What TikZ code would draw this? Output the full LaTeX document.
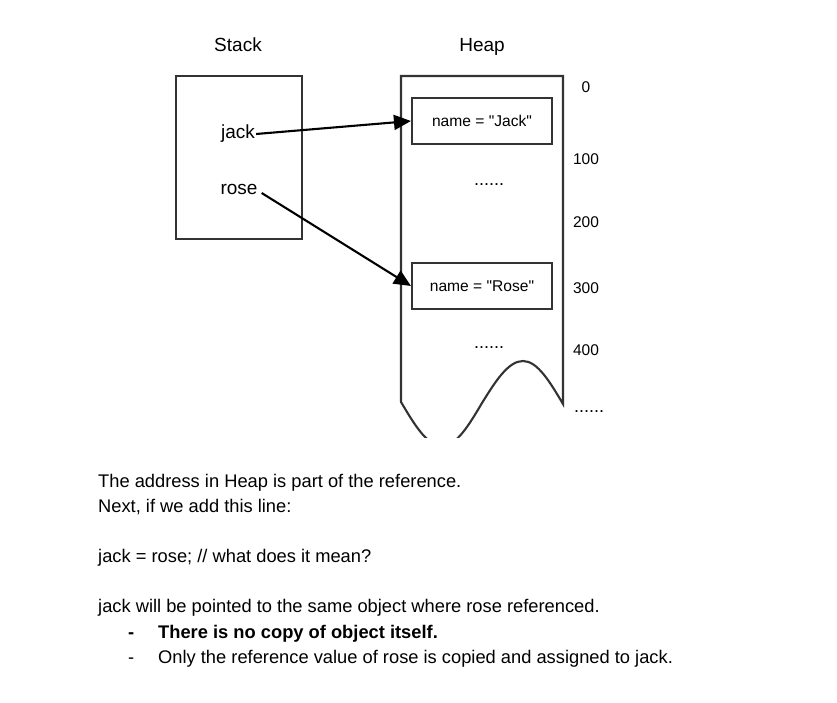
\documentclass[tikz,border=0pt]{standalone}
\usepackage{fontspec}
\setmainfont{Liberation Sans}
\newfontfamily\plainsans{Liberation Sans}
\usetikzlibrary{arrows.meta}
\definecolor{boxgray}{HTML}{333333}
\begin{document}
\begin{tikzpicture}[x=1pt,y=-1pt,
  outline/.style={draw=boxgray, line width=2.1pt, inner sep=0pt},
  objbox/.style={outline, minimum width=140pt, minimum height=46pt, font=\plainsans\fontsize{15.6}{18}\selectfont},
  title/.style={font=\fontsize{19}{22}\selectfont, inner sep=0pt, anchor=base},
  varlbl/.style={font=\fontsize{19}{22}\selectfont, inner sep=1pt},
  addr/.style={font=\fontsize{15.5}{18}\selectfont, inner sep=0pt},
  dots/.style={font=\fontsize{18}{20}\selectfont, inner sep=0pt, anchor=base},
  body/.style={font=\fontsize{18.3}{22}\selectfont, inner sep=0pt, anchor=base west},
  ptr/.style={line width=2.1pt, -{Triangle[length=17pt,width=15pt]}}
]
\useasboundingbox (0,0) rectangle (837,703);
\fill[white] (0,0) rectangle (837,703);

% titles
\node[title] (stacktitle) at (238,52) {Stack};
\node[title] (heaptitle) at (482,52) {Heap};

% stack box
\node[outline, minimum width=126pt, minimum height=163pt] (stack) at (239,157.5) {};
\node[varlbl] (jack) at (238,134) {jack};
\node[varlbl] (rose) at (239,189) {rose};

% heap outline with wavy bottom
\begin{scope}
\clip (380,60) rectangle (600,437.5);
\draw[boxgray, line width=2.1pt, line join=miter]
  (401,402) -- (401,76) -- (563,76) -- (563,404)
  sin (523,361) cos (482,403) sin (442,446) cos (401,402);
\end{scope}

% heap objects
\node[objbox] (jackobj) at (482,121) {name = "Jack"};
\node[objbox] (roseobj) at (482,286) {name = "Rose"};
\node[dots] (dots1) at (489,186) {......};
\node[dots] (dots2) at (489,348) {......};

% addresses
\node[addr] (a0) at (586,87) {0};
\node[addr] (a100) at (586,159) {100};
\node[addr] (a200) at (586,222) {200};
\node[addr] (a300) at (586,288) {300};
\node[addr] (a400) at (586,350) {400};
\node[dots] (adots) at (589,412) {......};

% pointers
\draw[ptr] (jack.east) -- (jackobj.west);
\draw[ptr] ([xshift=3pt,yshift=-4pt]rose.east) -- (roseobj.west);

% body text
\node[body] (t1) at (98,487) {The address in Heap is part of the reference.};
\node[body] (t2) at (98,512) {Next, if we add this line:};
\node[body] (t3) at (98,562) {jack = rose; // what does it mean?};
\node[body] (t4) at (98,612) {jack will be pointed to the same object where rose referenced.};
\node[body] (b1) at (128,638) {\bfseries -};
\node[body] (t5) at (158,638) {\bfseries There is no copy of object itself.};
\node[body] (b2) at (128,663) {-};
\node[body] (t6) at (158,663) {Only the reference value of rose is copied and assigned to jack.};
\end{tikzpicture}
\end{document}
